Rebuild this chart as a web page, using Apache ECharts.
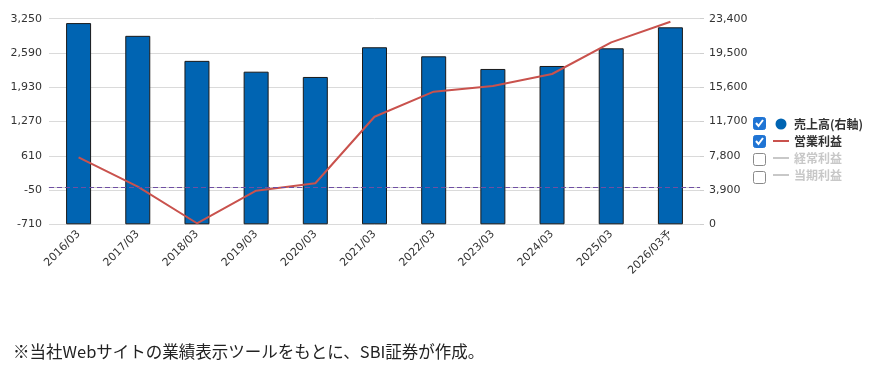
<!DOCTYPE html>
<html><head><meta charset="utf-8">
<script src="https://cdn.jsdelivr.net/npm/echarts@6/dist/echarts.min.js"></script>
<style>html,body{margin:0;padding:0;background:#fff}#c{width:877px;height:379px}</style>
</head><body><div id="c"></div>
<script>
const categories = ['2016/03','2017/03','2018/03','2019/03','2020/03','2021/03','2022/03','2023/03','2024/03','2025/03','2026/03予'];
const sales = [22900, 21450, 18600, 17370, 16770, 20150, 19120, 17680, 18020, 20030, 22420];
const operatingProfit = [580, 15, -690, -63, 80, 1362, 1844, 1954, 2185, 2795, 3192];
const leftTicks = [-710, -50, 610, 1270, 1930, 2590, 3250];
const rightTicks = [0, 3900, 7800, 11700, 15600, 19500, 23400];
const legendNames = ['売上高(右軸)', '営業利益', '経常利益', '当期利益'];
const legendChecked = [true, true, false, false];
const note = '※当社Webサイトの業績表示ツールをもとに、SBI証券が作成。';

const fmt = v => Number(v).toLocaleString('en-US');
const axisFont = {fontFamily: 'DejaVu Sans', fontSize: 11, color: '#333'};
const chart = echarts.init(document.getElementById('c'), null, {renderer: 'canvas'});

const checkTop = 117, rowH = 18, legLeft = 768;
const lineIcon = 'path://M0,0 M0,4.5 L16,4.5 L16,6.5 L0,6.5 Z M16,11';
const graphics = [];
legendChecked.forEach((chk, i) => {
  const cy = checkTop + 6 + i * rowH;
  graphics.push({type: 'rect', left: 753, top: cy - 6, shape: {width: 12, height: 12, r: 2},
    style: {fill: chk ? '#1f74d4' : '#fff', stroke: chk ? '#1f74d4' : '#8a8a8a', lineWidth: 1}});
  if (chk) graphics.push({type: 'polyline', shape: {points: [[756, cy], [758.5, cy + 3], [763, cy - 3]]},
    style: {stroke: '#fff', lineWidth: 2, fill: null}});
});
graphics.push({type: 'text', left: 13, top: 343, style: {text: note, fontFamily: 'Noto Sans CJK JP', fontSize: 16.5, fill: '#222'}});

chart.setOption({
  animation: false,
  grid: {left: 49, right: 177, top: 18.7, bottom: 154.7},
  legend: {
    orient: 'vertical', left: legLeft, top: 113, itemWidth: 16, itemHeight: 11, itemGap: 5,
    inactiveColor: '#c8c8c8', inactiveBorderWidth: 0,
    itemStyle: {borderWidth: 0},
    textStyle: {fontFamily: 'Noto Sans CJK JP', fontWeight: 'bold', fontSize: 12, lineHeight: 12, color: '#333'},
    data: [
      {name: legendNames[0], icon: 'circle'},
      {name: legendNames[1], icon: lineIcon},
      {name: legendNames[2], icon: lineIcon},
      {name: legendNames[3], icon: lineIcon}
    ],
    selected: Object.fromEntries(legendNames.map((n, i) => [n, legendChecked[i]]))
  },
  xAxis: {
    type: 'category', data: categories,
    axisLine: {lineStyle: {color: '#cfcfcf'}},
    axisTick: {inside: true, length: 6, lineStyle: {color: '#cfcfcf'}},
    axisLabel: Object.assign({rotate: 45, margin: 8, interval: 0}, axisFont)
  },
  yAxis: [
    {type: 'value', min: leftTicks[0], max: leftTicks[leftTicks.length - 1], interval: leftTicks[1] - leftTicks[0],
     axisLine: {show: false}, axisTick: {show: false},
     splitLine: {lineStyle: {color: '#dadada', width: 1}},
     axisLabel: Object.assign({formatter: fmt, margin: 7}, axisFont)},
    {type: 'value', min: rightTicks[0], max: rightTicks[rightTicks.length - 1], interval: rightTicks[1] - rightTicks[0],
     axisLine: {show: false}, axisTick: {show: true, length: 4, lineStyle: {color: '#cfcfcf'}},
     splitLine: {show: false},
     axisLabel: Object.assign({formatter: fmt, margin: 9}, axisFont)}
  ],
  series: [
    {name: legendNames[0], type: 'bar', yAxisIndex: 1, data: sales, barWidth: 25,
     itemStyle: {color: '#0064b2', borderColor: '#1a1a1a', borderWidth: 1}},
    {name: legendNames[1], type: 'line', yAxisIndex: 0, data: operatingProfit, symbol: 'none',
     lineStyle: {color: '#c9524d', width: 2}, itemStyle: {color: '#c9524d'},
     markLine: {silent: true, symbol: 'none', label: {show: false},
       lineStyle: {color: '#6f4fa3', type: [5, 3], width: 1}, data: [{yAxis: 0}]}},
    {name: legendNames[2], type: 'line', yAxisIndex: 0, data: [], symbol: 'none', lineStyle: {color: '#999'}, itemStyle: {color: '#999'}},
    {name: legendNames[3], type: 'line', yAxisIndex: 0, data: [], symbol: 'none', lineStyle: {color: '#999'}, itemStyle: {color: '#999'}}
  ],
  graphic: graphics
});
</script></body></html>
